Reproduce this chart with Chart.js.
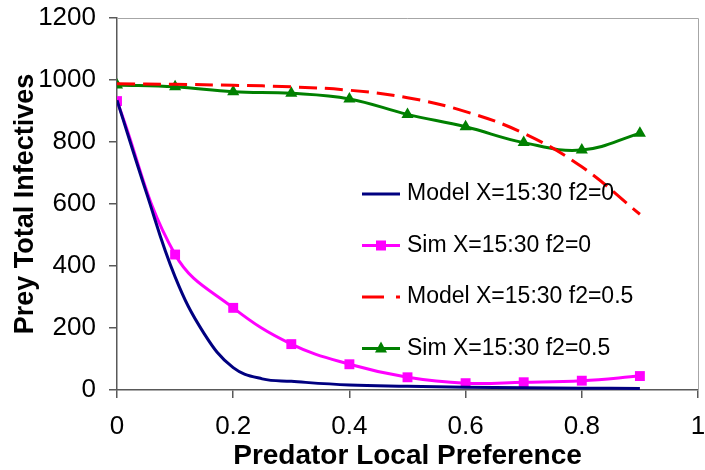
<!DOCTYPE html>
<html>
<head>
<meta charset="utf-8">
<script src="https://cdn.jsdelivr.net/npm/chart.js@4/dist/chart.umd.min.js"></script>
<style>
body { margin: 0; background: #fff; }
</style>
</head>
<body>
<canvas id="grafico" width="705" height="470"></canvas>
<script>
// values
var xModel = [0, 0.05, 0.1, 0.15, 0.2, 0.25, 0.3, 0.4, 0.5, 0.6, 0.7, 0.8, 0.9];
var modelF0 = [935, 640, 365, 182, 72, 36, 28, 16, 12, 9, 7, 6, 5];

var xPref = [0, 0.1, 0.2, 0.3, 0.4, 0.5, 0.6, 0.7, 0.8, 0.9];
var simF0 = [932, 437, 265, 148, 83, 41, 22, 25, 30, 45];
var modelF05 = [988, 986, 983, 978, 967, 943, 898, 828, 720, 567];
var simF05 = [984, 978, 962, 957, 939, 889, 849, 798, 774, 828];

var legendNames = ['Model X=15:30 f2=0', 'Sim X=15:30 f2=0', 'Model X=15:30 f2=0.5', 'Sim X=15:30 f2=0.5'];
var yTicks = [0, 200, 400, 600, 800, 1000, 1200];
var xTicks = [0, 0.2, 0.4, 0.6, 0.8, 1];

var fonte = 'Liberation Sans, Arial, sans-serif';

function pares(xs, ys) {
    return ys.map(function (v, i) { return { x: xs[i], y: v }; });
}

var quadroLegenda = {
    id: 'quadroLegenda',
    beforeDatasetsDraw: function (chart) {
        var ctx = chart.ctx;
        var a = chart.chartArea;
        ctx.save();
        ctx.strokeStyle = '#a6a6a6';
        ctx.lineWidth = 1;
        ctx.beginPath();
        ctx.moveTo(a.left, a.top + 0.5);
        ctx.lineTo(a.right + 0.5, a.top + 0.5);
        ctx.lineTo(a.right + 0.5, a.bottom);
        ctx.stroke();
        ctx.restore();
    },
    afterDraw: function (chart) {
        var ctx = chart.ctx;
        ctx.save();
        chart.data.datasets.forEach(function (ds, i) {
            var y = 194 + i * 51.5;
            var x0 = 362, x1 = 400, xm = 381;
            ctx.strokeStyle = ds.borderColor;
            ctx.lineWidth = ds.borderWidth;
            ctx.setLineDash(ds.borderDash ? [22, 12] : []);
            ctx.beginPath();
            ctx.moveTo(x0, y);
            ctx.lineTo(x1, y);
            ctx.stroke();
            ctx.setLineDash([]);
            ctx.fillStyle = ds.borderColor;
            if (ds.pointStyle === 'rect') {
                ctx.fillRect(xm - 5, y - 5, 10, 10);
            } else if (ds.pointStyle === 'triangle') {
                ctx.beginPath();
                ctx.moveTo(xm, y - 7);
                ctx.lineTo(xm + 6, y + 4);
                ctx.lineTo(xm - 6, y + 4);
                ctx.closePath();
                ctx.fill();
            }
            ctx.fillStyle = '#000';
            ctx.font = '23px ' + fonte;
            ctx.textBaseline = 'middle';
            ctx.fillText(legendNames[i], 407, y);
        });
        ctx.restore();
    }
};

var config = {
    type: 'line',
    data: {
        datasets: [{
            label: legendNames[0],
            data: pares(xModel, modelF0),
            borderColor: '#000080',
            borderWidth: 3,
            pointRadius: 0,
            tension: 0.4
        }, {
            label: legendNames[1],
            data: pares(xPref, simF0),
            borderColor: '#ff00ff',
            backgroundColor: '#ff00ff',
            borderWidth: 3,
            pointStyle: 'rect',
            pointRadius: 7,
            pointBorderWidth: 0,
            tension: 0.4
        }, {
            label: legendNames[2],
            data: pares(xPref, modelF05),
            borderColor: '#ff0000',
            borderWidth: 3,
            borderDash: [18, 8],
            pointRadius: 0,
            tension: 0.4
        }, {
            label: legendNames[3],
            data: pares(xPref, simF05),
            borderColor: '#008000',
            backgroundColor: '#008000',
            borderWidth: 3,
            pointStyle: 'triangle',
            pointRadius: 7,
            pointBorderWidth: 0,
            tension: 0.4
        }]
    },
    options: {
        responsive: false,
        animation: false,
        devicePixelRatio: 1,
        layout: { padding: { left: 0, top: 18, right: 4, bottom: 0 } },
        plugins: { legend: { display: false }, tooltip: { enabled: false } },
        scales: {
            x: {
                type: 'linear',
                min: 0,
                max: 1,
                afterBuildTicks: function (s) { s.ticks = xTicks.map(function (v) { return { value: v }; }); },
                ticks: {
                    color: '#000',
                    font: { size: 26, family: fonte },
                    padding: 13,
                    callback: function (v) { return String(+v.toFixed(1)); }
                },
                grid: { drawOnChartArea: false, tickLength: 8, color: '#595959', lineWidth: 1.5 },
                border: { color: '#595959', width: 1.5 },
                title: {
                    display: true,
                    text: 'Predator Local Preference',
                    color: '#000',
                    font: { size: 28, weight: 'bold', family: fonte },
                    padding: { top: 0, bottom: -3 }
                },
                afterFit: function (s) {
                    s.height = 80;
                    s.paddingLeft = 0;
                    s.paddingRight = 0;
                }
            },
            y: {
                min: 0,
                max: 1200,
                afterBuildTicks: function (s) { s.ticks = yTicks.map(function (v) { return { value: v }; }); },
                ticks: {
                    color: '#000',
                    font: { size: 26, family: fonte },
                    padding: 13,
                    callback: function (v) { return String(v); }
                },
                grid: { drawOnChartArea: false, tickLength: 8, color: '#595959', lineWidth: 1.5 },
                border: { color: '#595959', width: 1.5 },
                title: {
                    display: true,
                    text: 'Prey Total Infectives',
                    color: '#000',
                    font: { size: 27, weight: 'bold', family: fonte },
                    padding: { top: 9, bottom: 0 }
                },
                afterFit: function (s) {
                    s.width = 117;
                    s.paddingTop = 0;
                    s.paddingBottom = 0;
                }
            }
        }
    },
    plugins: [quadroLegenda]
};

var ctx = document.getElementById('grafico').getContext('2d');
var grafico = new Chart(ctx, config);
</script>
</body>
</html>
